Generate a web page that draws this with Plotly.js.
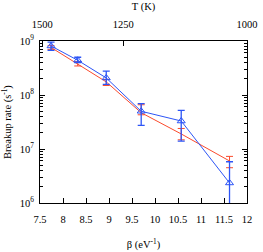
<!DOCTYPE html>
<html><head><meta charset="utf-8">
<script src="https://cdn.plot.ly/plotly-3.0.1.min.js"></script>
<style>html,body{margin:0;padding:0;background:#fff}#c{width:263px;height:252px}</style>
</head><body><div id="c"></div>
<script>
const beta = [7.74, 8.32, 8.94, 9.70, 10.57, 11.62];
const redRate = [7.6e8, 3.8e8, 1.75e8, 4.7e7, 1.9e7, 6.0e6];
const redErrPlus = [0.6e8, 0.35e8, 0.2e8, 1.9e7, 0.5e7, 1.3e6];
const redErrMinus = [0.6e8, 0.35e8, 0.25e8, 0.4e7, 0.42e7, 1.5e6];
const blueRate = [8.1e8, 4.4e8, 2.07e8, 5.0e7, 3.3e7, 2.35e6];
const blueErrPlus = [1.4e8, 0.6e8, 0.7e8, 1.9e7, 1.9e7, 3.45e6];
const blueErrMinus = [1.4e8, 0.4e8, 0.5e8, 2.25e7, 1.9e7, 2.3e6];
const xTicks = [7.5, 8, 8.5, 9, 9.5, 10, 10.5, 11, 11.5, 12];
const xTickText = ['7.5', '8', '8.5', '9', '9.5', '10', '10.5', '11', '11.5', '12'];
const topTickPos = [7.55, 9.31, 12.0];
const topTickText = ['1500', '1250', '1000'];
const yTicks = [1e6, 1e7, 1e8, 1e9];
const yTickText = ['10<sup>6</sup>', '10<sup>7</sup>', '10<sup>8</sup>', '10<sup>9</sup>'];

const red = '#fb4a2c', blue = '#2d55f6';
const font = {family: 'Liberation Serif, Times New Roman, serif', size: 10.5, color: '#000'};

const traces = [
  {x: beta, y: redRate, type: 'scatter', mode: 'lines', line: {color: red, width: 1},
   error_y: {type: 'data', array: redErrPlus, arrayminus: redErrMinus, color: red, thickness: 1, width: 3.5}},
  {x: beta, y: blueRate, type: 'scatter', mode: 'lines+markers', line: {color: blue, width: 1},
   marker: {symbol: 'triangle-up-open', size: 7, color: blue, line: {width: 1}},
   error_y: {type: 'data', array: blueErrPlus, arrayminus: blueErrMinus, color: blue, thickness: 1.3, width: 3.5}},
  {x: [beta[0]], y: [redRate[0]], xaxis: 'x2', type: 'scatter', mode: 'none', hoverinfo: 'skip', showlegend: false}
];

const layout = {
  width: 263, height: 252,
  margin: {l: 40, r: 16, t: 41, b: 49},
  paper_bgcolor: '#fff', plot_bgcolor: '#fff',
  showlegend: false, font: font,
  xaxis: {range: [7.5, 12], tickvals: xTicks, ticktext: xTickText, ticks: 'inside', ticklen: 5,
    tickcolor: '#000', showline: true, linecolor: '#000', linewidth: 1, mirror: true,
    showgrid: false, zeroline: false, tickfont: font, ticklabelstandoff: 6,
    title: {text: 'β (eV<sup>-1</sup>)', font: font, standoff: 17}},
  xaxis2: {range: [7.5, 12], overlaying: 'x', side: 'top', tickvals: topTickPos, ticktext: topTickText,
    ticks: 'inside', ticklen: 5, tickcolor: '#000', showgrid: false, zeroline: false, showline: false,
    tickfont: font, ticklabelstandoff: 10, title: {text: 'T (K)', font: font, standoff: 6}},
  yaxis: {type: 'log', range: [6, 9], tickvals: yTicks, ticktext: yTickText, ticks: 'inside', ticklen: 5,
    tickcolor: '#000', showline: true, linecolor: '#000', linewidth: 1, mirror: 'ticks',
    showgrid: false, zeroline: false, tickfont: font, ticklabelstandoff: 3,
    minor: {ticks: 'inside', ticklen: 3, tickcolor: '#000', tickvals: (function(){const v=[];for(let d=6;d<9;d++)for(let k=2;k<10;k++)v.push(k*Math.pow(10,d));return v;})(), showgrid: false},
    title: {text: 'Breakup rate (s<sup>-1</sup>)', font: font, standoff: 12}}
};

Plotly.newPlot('c', traces, layout, {staticPlot: true, displayModeBar: false});
</script></body></html>
